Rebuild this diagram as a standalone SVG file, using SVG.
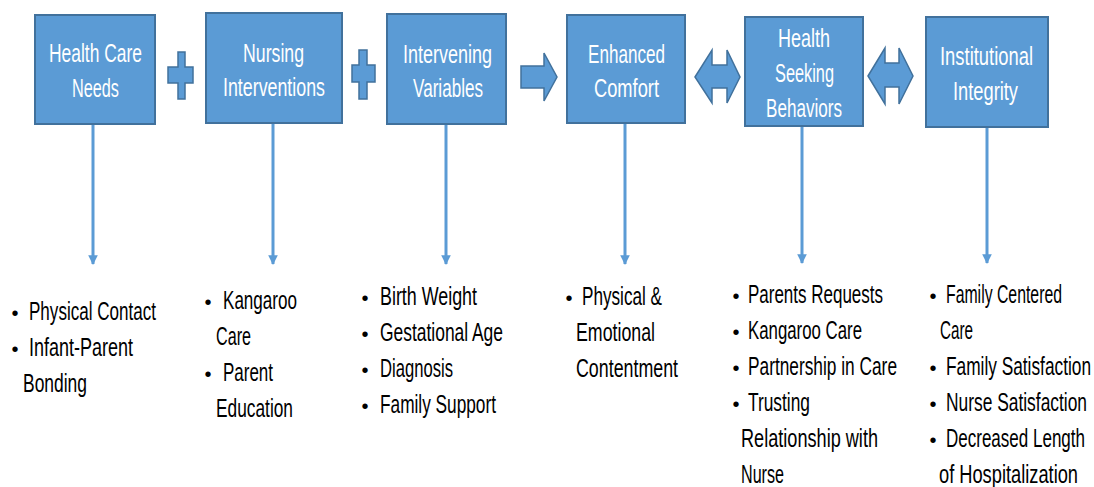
<svg xmlns="http://www.w3.org/2000/svg" width="1094" height="487" viewBox="0 0 1094 487">
<style>
.box{fill:#5B9BD5;stroke:#41719C;stroke-width:2}
.op{fill:#5B9BD5;stroke:#41719C;stroke-width:1.5}
.bt{font-family:"Liberation Sans Narrow","Liberation Sans",Arial,sans-serif;font-size:26px;fill:#FFFFFF}
.lt{font-family:"Liberation Sans Narrow","Liberation Sans",Arial,sans-serif;font-size:25px;fill:#000000}
.bu{font-family:"Liberation Sans",Arial,sans-serif;font-size:20px;fill:#000000;text-anchor:middle}
.conn{stroke:#5B9BD5;stroke-width:3;fill:none}
</style>
<defs>
<marker id="ah" viewBox="0 0 10 10" refX="9" refY="5" markerWidth="3.2" markerHeight="4.2" orient="auto" markerUnits="strokeWidth">
<path d="M0,0 L10,5 L0,10 z" fill="#5B9BD5"/>
</marker>
</defs>
<rect width="1094" height="487" fill="#FFFFFF"/>

<g id="connectors">
<line class="conn" x1="93" y1="125" x2="93" y2="264" marker-end="url(#ah)"/>
<line class="conn" x1="273" y1="124" x2="273" y2="264" marker-end="url(#ah)"/>
<line class="conn" x1="446" y1="125" x2="446" y2="264" marker-end="url(#ah)"/>
<line class="conn" x1="625" y1="124" x2="625" y2="264" marker-end="url(#ah)"/>
<line class="conn" x1="802" y1="127" x2="802" y2="263" marker-end="url(#ah)"/>
<line class="conn" x1="987" y1="128" x2="987" y2="263" marker-end="url(#ah)"/>
</g>

<g id="operators">
<path class="op" d="M178,52 H185 V67 H193 V83 H185 V99 H178 V83 H168 V67 H178 Z"/>
<path class="op" d="M359,50 H367 V65 H375 V82 H367 V99 H359 V82 H352 V65 H359 Z"/>
<path class="op" d="M521,66 H544 V53 L557,77 L544,101 V88 H521 Z"/>
<path class="op" d="M695,77 L712,50 V65 H727 V50 L740,77 L727,103 V88 H712 V103 Z"/>
<path class="op" d="M868,76 L885,48 V63 H899 V48 L913,76 L899,104 V87 H885 V104 Z"/>
</g>

<g id="node-health-care-needs">
<rect class="box" x="35" y="15" width="120" height="109"/>
<text class="bt" x="49" y="62" textLength="93" lengthAdjust="spacingAndGlyphs">Health Care</text>
<text class="bt" x="72" y="97" textLength="47" lengthAdjust="spacingAndGlyphs">Needs</text>
</g>
<g id="node-nursing-interventions">
<rect class="box" x="206" y="13" width="136" height="110"/>
<text class="bt" x="243" y="62" textLength="61" lengthAdjust="spacingAndGlyphs">Nursing</text>
<text class="bt" x="223" y="96" textLength="102" lengthAdjust="spacingAndGlyphs">Interventions</text>
</g>
<g id="node-intervening-variables">
<rect class="box" x="387" y="14" width="119" height="110"/>
<text class="bt" x="403" y="63" textLength="89" lengthAdjust="spacingAndGlyphs">Intervening</text>
<text class="bt" x="413" y="97" textLength="70" lengthAdjust="spacingAndGlyphs">Variables</text>
</g>
<g id="node-enhanced-comfort">
<rect class="box" x="567" y="15" width="118" height="108"/>
<text class="bt" x="588" y="63" textLength="77" lengthAdjust="spacingAndGlyphs">Enhanced</text>
<text class="bt" x="594" y="97" textLength="65" lengthAdjust="spacingAndGlyphs">Comfort</text>
</g>
<g id="node-health-seeking-behaviors">
<rect class="box" x="745" y="17" width="118" height="109"/>
<text class="bt" x="778" y="47" textLength="52" lengthAdjust="spacingAndGlyphs">Health</text>
<text class="bt" x="775" y="82" textLength="59" lengthAdjust="spacingAndGlyphs">Seeking</text>
<text class="bt" x="766" y="117" textLength="76" lengthAdjust="spacingAndGlyphs">Behaviors</text>
</g>
<g id="node-institutional-integrity">
<rect class="box" x="926" y="17" width="122" height="110"/>
<text class="bt" x="940" y="65" textLength="93" lengthAdjust="spacingAndGlyphs">Institutional</text>
<text class="bt" x="953" y="100" textLength="65" lengthAdjust="spacingAndGlyphs">Integrity</text>
</g>

<g id="list-health-care-needs">
<text class="bu" x="15" y="320">•</text>
<text class="lt" x="29" y="320" textLength="127" lengthAdjust="spacingAndGlyphs">Physical Contact</text>
<text class="bu" x="15" y="356">•</text>
<text class="lt" x="29" y="356" textLength="104" lengthAdjust="spacingAndGlyphs">Infant-Parent</text>
<text class="lt" x="23" y="392" textLength="64" lengthAdjust="spacingAndGlyphs">Bonding</text>
</g>
<g id="list-nursing-interventions">
<text class="bu" x="208" y="309">•</text>
<text class="lt" x="223" y="309" textLength="74" lengthAdjust="spacingAndGlyphs">Kangaroo</text>
<text class="lt" x="216" y="345" textLength="35" lengthAdjust="spacingAndGlyphs">Care</text>
<text class="bu" x="208" y="381">•</text>
<text class="lt" x="223" y="381" textLength="50" lengthAdjust="spacingAndGlyphs">Parent</text>
<text class="lt" x="216" y="417" textLength="77" lengthAdjust="spacingAndGlyphs">Education</text>
</g>
<g id="list-intervening-variables">
<text class="bu" x="365" y="305">•</text>
<text class="lt" x="380" y="305" textLength="97" lengthAdjust="spacingAndGlyphs">Birth Weight</text>
<text class="bu" x="365" y="341">•</text>
<text class="lt" x="380" y="341" textLength="123" lengthAdjust="spacingAndGlyphs">Gestational Age</text>
<text class="bu" x="365" y="377">•</text>
<text class="lt" x="380" y="377" textLength="73" lengthAdjust="spacingAndGlyphs">Diagnosis</text>
<text class="bu" x="365" y="413">•</text>
<text class="lt" x="380" y="413" textLength="116" lengthAdjust="spacingAndGlyphs">Family Support</text>
</g>
<g id="list-enhanced-comfort">
<text class="bu" x="569" y="305">•</text>
<text class="lt" x="582" y="305" textLength="80" lengthAdjust="spacingAndGlyphs">Physical &amp;</text>
<text class="lt" x="576" y="341" textLength="79" lengthAdjust="spacingAndGlyphs">Emotional</text>
<text class="lt" x="576" y="377" textLength="102" lengthAdjust="spacingAndGlyphs">Contentment</text>
</g>
<g id="list-health-seeking-behaviors">
<text class="bu" x="736" y="303">•</text>
<text class="lt" x="748" y="303" textLength="135" lengthAdjust="spacingAndGlyphs">Parents Requests</text>
<text class="bu" x="736" y="339">•</text>
<text class="lt" x="748" y="339" textLength="114" lengthAdjust="spacingAndGlyphs">Kangaroo Care</text>
<text class="bu" x="736" y="375">•</text>
<text class="lt" x="748" y="375" textLength="149" lengthAdjust="spacingAndGlyphs">Partnership in Care</text>
<text class="bu" x="736" y="411">•</text>
<text class="lt" x="748" y="411" textLength="62" lengthAdjust="spacingAndGlyphs">Trusting</text>
<text class="lt" x="741" y="447" textLength="137" lengthAdjust="spacingAndGlyphs">Relationship with</text>
<text class="lt" x="741" y="483" textLength="43" lengthAdjust="spacingAndGlyphs">Nurse</text>
</g>
<g id="list-institutional-integrity">
<text class="bu" x="933" y="303">•</text>
<text class="lt" x="946" y="303" textLength="116" lengthAdjust="spacingAndGlyphs">Family Centered</text>
<text class="lt" x="940" y="339" textLength="33" lengthAdjust="spacingAndGlyphs">Care</text>
<text class="bu" x="933" y="375">•</text>
<text class="lt" x="946" y="375" textLength="145" lengthAdjust="spacingAndGlyphs">Family Satisfaction</text>
<text class="bu" x="933" y="411">•</text>
<text class="lt" x="946" y="411" textLength="141" lengthAdjust="spacingAndGlyphs">Nurse Satisfaction</text>
<text class="bu" x="933" y="447">•</text>
<text class="lt" x="946" y="447" textLength="139" lengthAdjust="spacingAndGlyphs">Decreased Length</text>
<text class="lt" x="939" y="483" textLength="139" lengthAdjust="spacingAndGlyphs">of Hospitalization</text>
</g>
</svg>
